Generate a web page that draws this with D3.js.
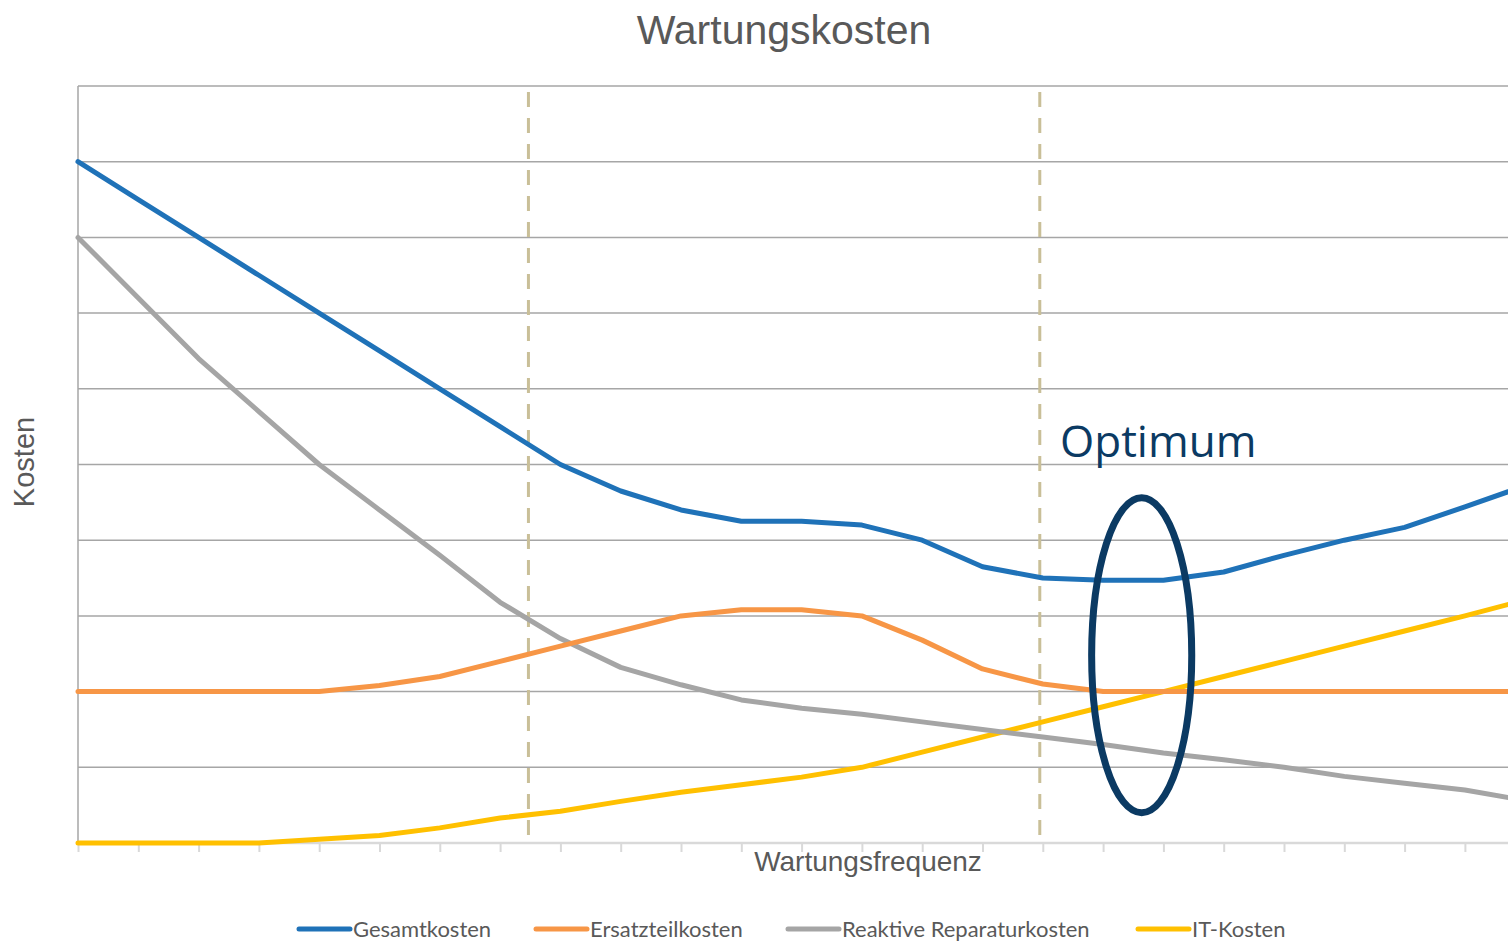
<!DOCTYPE html>
<html><head><meta charset="utf-8">
<script src="https://cdn.jsdelivr.net/npm/d3@7"></script>
<style>html,body{margin:0;padding:0;background:#fff;overflow:hidden}</style>
</head><body>
<svg id="chart" width="1508" height="943"></svg>
<script>
// ---- data ----
const categories = ["1","2","3","4","5","6","7","8","9","10","11","12","13","14","15","16","17","18","19","20","21","22","23","24","25"];
const gesamtkosten = [9.0, 8.5, 8.0, 7.5, 7.0, 6.5, 6.0, 5.5, 5.0, 4.65, 4.4, 4.25, 4.25, 4.2, 4.0, 3.65, 3.5, 3.47, 3.47, 3.58, 3.8, 4.0, 4.17, 4.44, 4.72];
const ersatzteilkosten = [2.0, 2.0, 2.0, 2.0, 2.0, 2.08, 2.2, 2.4, 2.6, 2.8, 3.0, 3.08, 3.08, 3.0, 2.68, 2.3, 2.1, 2.0, 2.0, 2.0, 2.0, 2.0, 2.0, 2.0, 2.0];
const reaktiveKosten = [8.0, 7.2, 6.4, 5.7, 5.0, 4.4, 3.8, 3.18, 2.7, 2.32, 2.09, 1.89, 1.78, 1.70, 1.6, 1.5, 1.4, 1.3, 1.19, 1.1, 1.0, 0.88, 0.79, 0.70, 0.56];
const itKosten = [0, 0, 0, 0, 0.05, 0.1, 0.2, 0.33, 0.42, 0.55, 0.67, 0.77, 0.87, 1.0, 1.2, 1.4, 1.6, 1.8, 2.0, 2.2, 2.4, 2.6, 2.8, 3.0, 3.21];
const yTicks = [0,1,2,3,4,5,6,7,8,9,10];
const seriesNames = ["Gesamtkosten", "Ersatzteilkosten", "Reaktive Reparaturkosten", "IT-Kosten"];
const seriesColors = ["#1f72b8", "#f79646", "#a5a5a5", "#ffc000"];
const markerPositions = [7.47, 15.95];          // dashed vertical lines (category index)
const optimum = {cx: 17.64, cy: 2.48, rx: 0.83, ry: 2.08, label: "Optimum"};

(function () {
// ---- layout ----
const svg = d3.select("#chart");
const mLeft = 78, mTop = 86, mBottom = 843, step = 60.3;
const mRight = mLeft + step * (categories.length - 1);

const x = d3.scalePoint().domain(categories).range([mLeft, mRight]);
const xl = d3.scaleLinear().domain([0, categories.length - 1]).range([mLeft, mRight]);
const y = d3.scaleLinear().domain([0, 10]).range([mBottom, mTop]);

svg.append("rect").attr("width", 1508).attr("height", 943).attr("fill", "#fff");

// gridlines
svg.append("g").selectAll("line").data(yTicks.filter(d => d > 0)).join("line")
  .attr("x1", mLeft).attr("x2", mRight + 30)
  .attr("y1", d => y(d)).attr("y2", d => y(d))
  .attr("stroke", "#a6a6a6").attr("stroke-width", 1.5);

// left border
svg.append("line").attr("x1", mLeft).attr("x2", mLeft).attr("y1", mTop).attr("y2", mBottom)
  .attr("stroke", "#a6a6a6").attr("stroke-width", 1.5);

// x axis
const xAxis = d3.axisBottom(x).tickSize(9).tickFormat("");
const gx = svg.append("g").attr("transform", `translate(0,${mBottom})`).call(xAxis);
gx.select(".domain").remove();
gx.selectAll(".tick line").attr("stroke", "#d9d9d9").attr("stroke-width", 2);
svg.append("line").attr("x1", mLeft).attr("x2", mRight + 30).attr("y1", mBottom).attr("y2", mBottom)
  .attr("stroke", "#d9d9d9").attr("stroke-width", 2.5);

// dashed marker lines
svg.append("g").selectAll("line").data(markerPositions).join("line")
  .attr("x1", d => xl(d)).attr("x2", d => xl(d))
  .attr("y1", mTop + 6).attr("y2", mBottom)
  .attr("stroke", "#c9bf98").attr("stroke-width", 3)
  .attr("stroke-dasharray", "15,11");

// series lines
const allSeries = [gesamtkosten, ersatzteilkosten, reaktiveKosten, itKosten];
const line = d3.line().x((d, i) => x(categories[i])).y(d => y(d));
const drawOrder = [3, 2, 1, 0];
svg.append("g").selectAll("path").data(drawOrder).join("path")
  .attr("d", i => line(allSeries[i]))
  .attr("fill", "none")
  .attr("stroke", i => seriesColors[i])
  .attr("stroke-width", 5)
  .attr("stroke-linejoin", "round")
  .attr("stroke-linecap", "round");

// optimum ellipse + label
svg.append("ellipse")
  .attr("cx", xl(optimum.cx)).attr("cy", y(optimum.cy))
  .attr("rx", xl(optimum.rx) - xl(0)).attr("ry", y(0) - y(optimum.ry))
  .attr("fill", "none").attr("stroke", "#0b3a63").attr("stroke-width", 7);
svg.append("text").attr("x", 1060).attr("y", 457)
  .attr("font-family", "'Open Sans', sans-serif").attr("font-size", 44)
  .attr("fill", "#0b3a63").text(optimum.label);

// titles
svg.append("text").attr("x", 784).attr("y", 44).attr("text-anchor", "middle")
  .attr("font-family", "'Liberation Sans', Arial, sans-serif").attr("font-size", 41)
  .attr("fill", "#595959").text("Wartungskosten");
svg.append("text").attr("transform", "translate(34,462) rotate(-90)").attr("text-anchor", "middle")
  .attr("font-family", "'Liberation Sans', Arial, sans-serif").attr("font-size", 29)
  .attr("fill", "#595959").text("Kosten");
svg.append("text").attr("x", 868).attr("y", 871).attr("text-anchor", "middle")
  .attr("font-family", "'Liberation Sans', Arial, sans-serif").attr("font-size", 28)
  .attr("fill", "#595959").text("Wartungsfrequenz");

// legend
const legendX = [297, 534, 786, 1136];
const lg = svg.append("g").selectAll("g").data(seriesNames).join("g")
  .attr("transform", (d, i) => `translate(${legendX[i]},929)`);
lg.append("line").attr("x1", 2).attr("x2", 53).attr("y1", 0).attr("y2", 0)
  .attr("stroke", (d, i) => seriesColors[i]).attr("stroke-width", 5).attr("stroke-linecap", "round");
lg.append("text").attr("x", 56).attr("y", 8)
  .attr("font-family", "Lato, sans-serif").attr("font-size", 22)
  .attr("fill", "#595959").text(d => d);
})();
</script>
</body></html>
